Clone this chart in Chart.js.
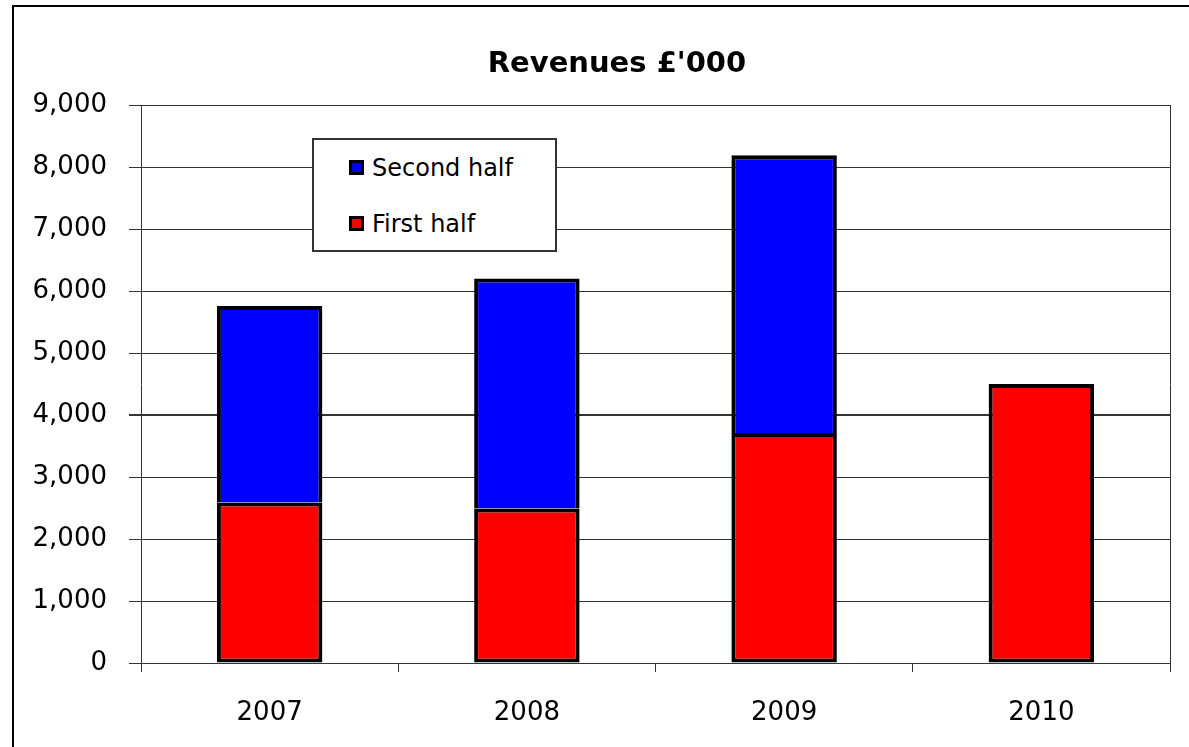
<!DOCTYPE html>
<html>
<head>
<meta charset="utf-8">
<title>Revenues £'000</title>
<script src="https://cdn.jsdelivr.net/npm/chart.js@4.4.1/dist/chart.umd.min.js"></script>
<style>
    body { margin: 0; background: #fff; overflow: hidden; }
    #wrap { position: relative; width: 1189px; height: 747px; }
    #frame {
        position: absolute; left: 12px; top: 5px; width: 1300px; height: 900px;
        border-left: 2px solid #000; border-top: 2px solid #000;
    }
    #title {
        position: absolute; left: 0; top: 45px; width: 1234px; line-height: 35px;
        text-align: center; font-family: "DejaVu Sans", sans-serif; font-size: 29px;
        font-weight: bold; color: #000; white-space: nowrap;
    }
    #legend {
        position: absolute; left: 312px; top: 138px; width: 245px; height: 114px;
        box-sizing: border-box; border: 2px solid #333; background: #fff;
        font-family: "DejaVu Sans", sans-serif; font-size: 24px; color: #000;
    }
    .legend-item { height: 56px; line-height: 56px; padding-left: 35px; white-space: nowrap; }
    .legend-box {
        display: inline-block; width: 15px; height: 15px; box-sizing: border-box;
        border: 3px solid #000; margin-right: 8px; vertical-align: middle; position: relative; top: -2px;
    }
</style>
</head>
<body>
<div id="wrap">
    <div id="frame"></div>
    <canvas id="chartRevenue"></canvas>
    <div id="title">Revenues £'000</div>
    <div id="legend"></div>
</div>

<script>
/* ---------------- DATA ---------------- */
const years = ["2007", "2008", "2009", "2010"];
const firstHalf = [2590, 2490, 3710, 4500];
const secondHalf = [3170, 3710, 4480, null];

const fontName = "'DejaVu Sans', sans-serif";
const gridColor = "#333";

/* ---------------- CHART ---------------- */
const chart = new Chart(document.getElementById("chartRevenue"), {
    type: "bar",
    data: {
        labels: years,
        datasets: [
            {
                label: "First half",
                data: firstHalf,
                backgroundColor: "#ff0000",
                borderColor: "#000",
                borderWidth: 4,
                borderSkipped: false,
                inflateAmount: 0
            },
            {
                label: "Second half",
                data: secondHalf,
                backgroundColor: "#0000ff",
                borderColor: "#000",
                borderWidth: 4,
                inflateAmount: 0
            }
        ]
    },
    options: {
        responsive: true,
        maintainAspectRatio: false,
        animation: false,
        layout: { padding: { left: 0, right: 0, top: 105, bottom: 0 } },
        datasets: { bar: { barPercentage: 0.41, categoryPercentage: 1 } },
        plugins: {
            legend: { display: false },
            tooltip: { enabled: false },
            title: { display: false }
        },
        scales: {
            x: {
                stacked: true,
                grid: { display: true, drawOnChartArea: false, drawTicks: true, tickLength: 9, color: gridColor, offset: true },
                border: { display: true, color: gridColor, width: 1 },
                ticks: { color: "#000", font: { family: fontName, size: 26 }, padding: 26, maxRotation: 0 },
                afterFit: scale => { scale.height = 84; }
            },
            y: {
                stacked: true,
                min: 0,
                max: 9000,
                grid: {
                    color: gridColor,
                    lineWidth: ctx => (ctx.tick && ctx.tick.value === 4000 ? 2 : 1),
                    drawTicks: true,
                    tickLength: 12
                },
                border: { display: true, color: gridColor, width: 1 },
                ticks: {
                    stepSize: 1000,
                    color: "#000",
                    padding: 22,
                    font: { family: fontName, size: 26 },
                    callback: v => v.toLocaleString("en-US")
                },
                afterFit: scale => { scale.width = 141; }
            },
            y2: {
                position: "right",
                grid: { drawOnChartArea: false, drawTicks: false },
                border: { display: true, color: gridColor, width: 1 },
                ticks: { display: false },
                afterFit: scale => { scale.width = 19; }
            }
        }
    }
});

/* ---------------- LEGEND ---------------- */
const legend = document.getElementById("legend");
chart.data.datasets.slice().reverse().forEach(ds => {
    legend.innerHTML += `
        <div class="legend-item">
            <span class="legend-box" style="background:${ds.backgroundColor}"></span>${ds.label}
        </div>
    `;
});
</script>
</body>
</html>
